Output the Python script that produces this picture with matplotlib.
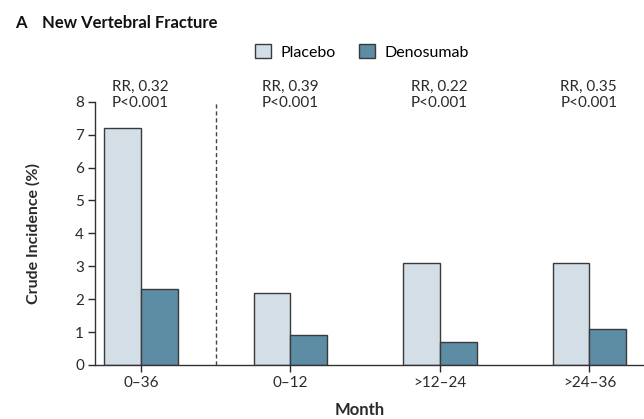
import matplotlib.pyplot as plt
from matplotlib.patches import Patch
import numpy as np

plt.rcParams['font.family'] = ['Lato', 'DejaVu Sans']

months = ['0\u201336', '0\u201312', '>12\u201324', '>24\u201336']
placebo = [7.2, 2.2, 3.1, 3.1]
denosumab = [2.3, 0.9, 0.7, 1.1]
rr = ['RR, 0.32', 'RR, 0.39', 'RR, 0.22', 'RR, 0.35']
pvals = ['P<0.001', 'P<0.001', 'P<0.001', 'P<0.001']

c_plac = '#d3dee6'
c_deno = '#5d8ca5'
edge = '#3a3a3a'
txt = '#2a2a2a'

fig = plt.figure(figsize=(6.44, 4.19), dpi=100)
ax = fig.add_axes([0.1475, 0.129, 0.8525, 0.628])

x = np.arange(len(months))
w = 0.245
ax.bar(x - w / 2, placebo, w, color=c_plac, edgecolor=edge, linewidth=1.0, zorder=2)
ax.bar(x + w / 2, denosumab, w, color=c_deno, edgecolor=edge, linewidth=1.0, zorder=2)

# separator between overall and yearly intervals
ax.plot([0.5, 0.5], [0, 8], ls=(0, (3, 2)), color='#444444', lw=1.0, clip_on=False)

# RR / P annotations above each group
for i in range(len(months)):
    ax.text(x[i] - 0.194, 8.45, rr[i], ha='left', va='center',
            fontsize=11, color=txt, clip_on=False)
    ax.text(x[i] - 0.194, 7.96, pvals[i], ha='left', va='center',
            fontsize=11, color=txt, clip_on=False)

ax.set_xlim(-0.308, 3.365)
ax.set_ylim(0, 8)
ax.set_yticks(range(0, 9))
ax.set_xticks(x)
ax.set_xticklabels(months)
ax.tick_params(axis='both', labelsize=11, colors=txt, length=5, width=1.0,
               direction='out', pad=3)
for s in ['top', 'right']:
    ax.spines[s].set_visible(False)
for s in ['left', 'bottom']:
    ax.spines[s].set_linewidth(1.0)
    ax.spines[s].set_color('#333333')

fig.text(0.051, 0.443, 'Crude Incidence (%)', fontsize=11.5, fontweight='bold', color=txt,
         rotation=90, ha='center', va='center')
fig.text(0.559, 0.021, 'Month', fontsize=12, fontweight='bold', color=txt,
         ha='center', va='center')

fig.text(0.023, 0.945, 'A', fontsize=12, fontweight='bold', color='#111111', va='center')
fig.text(0.065, 0.945, 'New Vertebral Fracture', fontsize=12, fontweight='bold',
         color='#111111', va='center')

handles = [Patch(facecolor=c_plac, edgecolor=edge, label='Placebo'),
           Patch(facecolor=c_deno, edgecolor=edge, label='Denosumab')]
fig.legend(handles=handles, loc='center', bbox_to_anchor=(0.562, 0.876), ncol=2,
           frameon=False, fontsize=11.5, handlelength=1.0, handleheight=1.0,
           handletextpad=0.6, columnspacing=1.4)

fig.savefig('out.png', dpi=100)
